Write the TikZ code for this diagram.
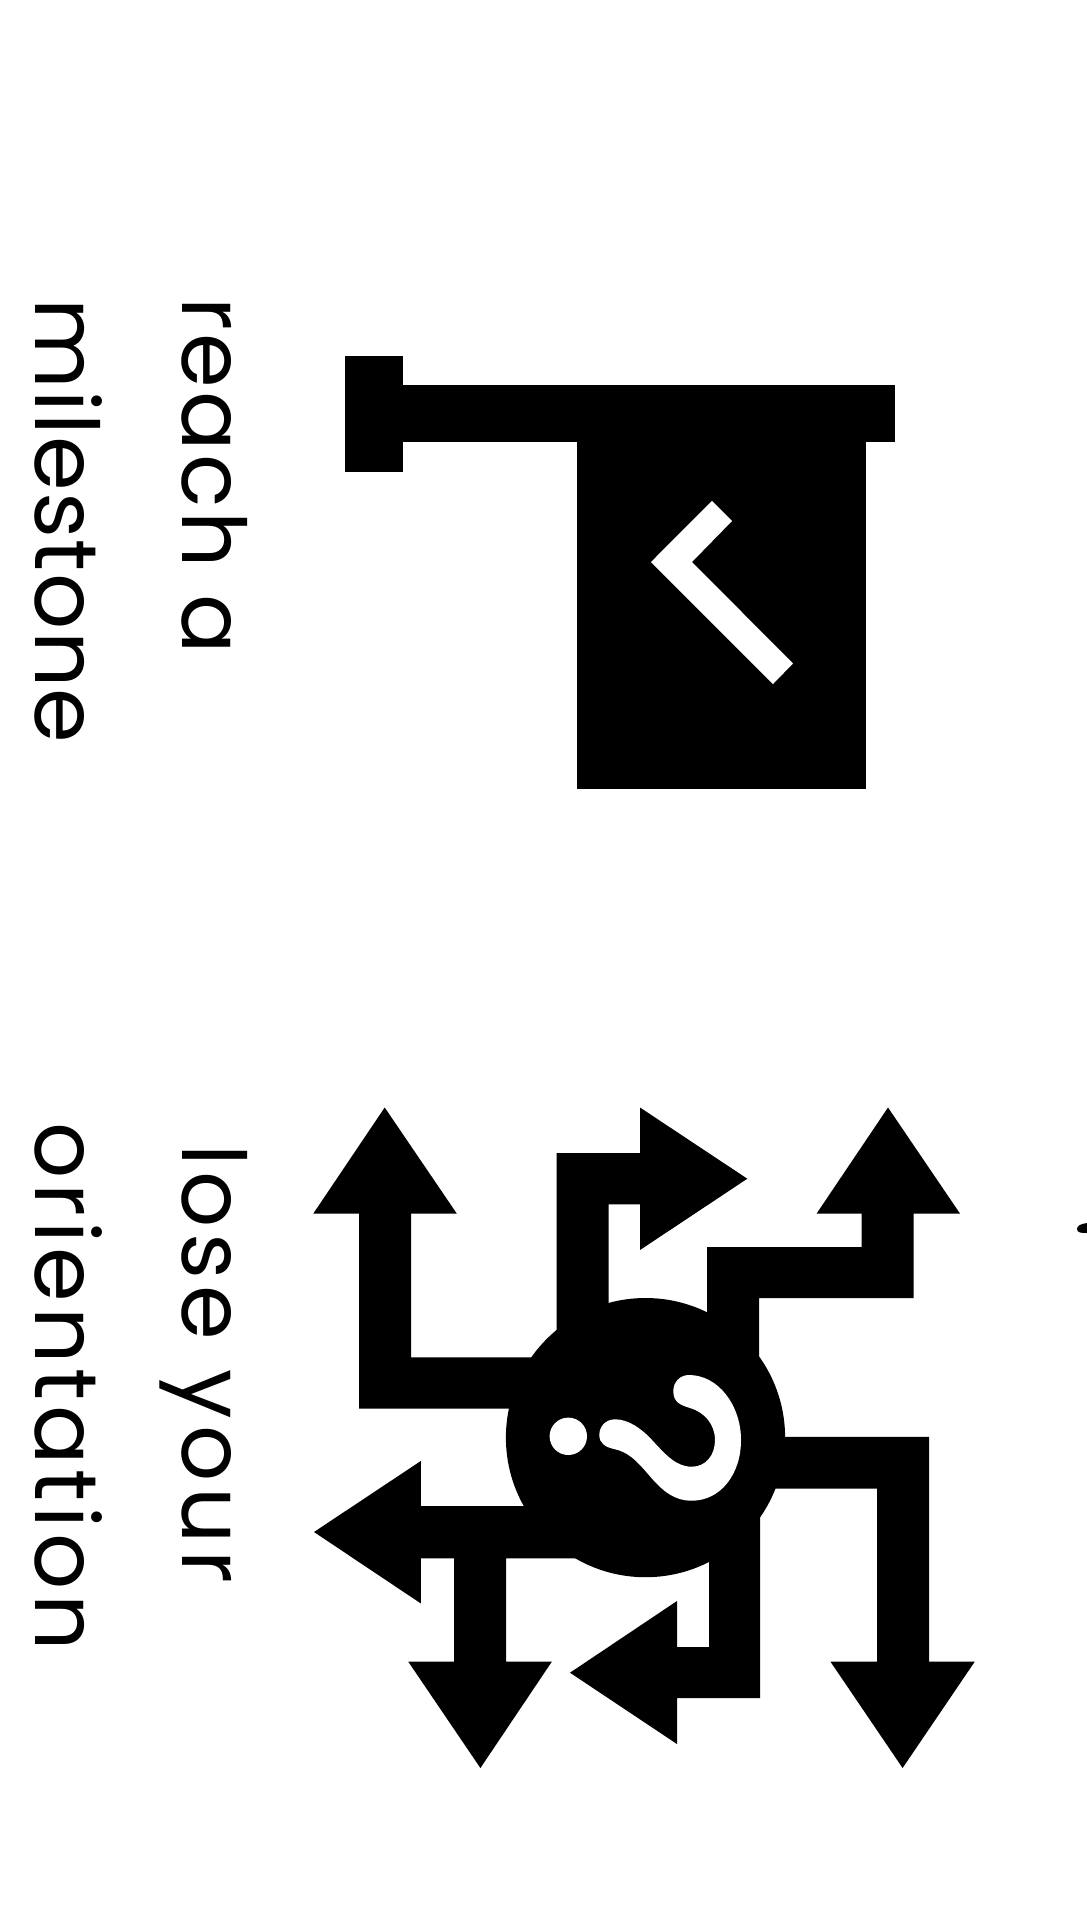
\documentclass[tikz,border=0pt]{standalone}
\usepackage{fontspec}
\newfontfamily\handA[LetterSpace=4]{Poppins}
\newfontfamily\handB[LetterSpace=1.6]{Poppins}
\newfontfamily\handC[LetterSpace=5.6]{Poppins}
\newfontfamily\handD[LetterSpace=6.8]{Poppins}
\tikzset{
  ink/.style={fill=black,draw=none},
  paper/.style={fill=white,draw=none},
  label/.style={rotate=-90,anchor=base west,inner sep=0pt,outer sep=0pt,text=black,font=\fontsize{88}{88}\selectfont}
}
\begin{document}
\begin{tikzpicture}[x=1pt,y=-1pt]
\useasboundingbox (0,0) rectangle (1087,1923);
\fill[white] (0,0) rectangle (1087,1923);
% flag
\fill[ink] (345.2,356) rectangle (402.8,471.5);
\fill[ink] (402.8,385.1) rectangle (895,441.8);
\fill[ink] (576.8,441.8) rectangle (865.9,789);
\fill[paper] (712,500.8) -- (732,521) -- (692,562) -- (793,663.5) -- (773,684) -- (651,562) -- cycle;
% lost: hub
\fill[ink] (645.5,1437.6) circle[radius=139.6];
% arrows
\fill[ink] (384.7,1107.5) -- (456.8,1213.6) -- (411,1213.6) -- (411,1357.3) -- (560,1357.3) -- (560,1408.7) -- (359,1408.7) -- (359,1213.6) -- (313.3,1213.6) -- cycle;
\fill[ink] (747.3,1178.7) -- (640,1250) -- (640,1204.4) -- (608.7,1204.4) -- (608.7,1340) -- (556.7,1340) -- (556.7,1153) -- (640,1153) -- (640,1107.5) -- cycle;
\fill[ink] (888,1107.5) -- (960,1213.6) -- (913.7,1213.6) -- (913.7,1298) -- (759,1298) -- (759,1400) -- (707,1400) -- (707,1247) -- (861.7,1247) -- (861.7,1213.6) -- (816.6,1213.6) -- cycle;
\fill[ink] (760,1436.8) -- (929,1436.8) -- (929,1661.7) -- (974.7,1661.7) -- (902.6,1768) -- (830.5,1661.7) -- (877,1661.7) -- (877,1488.6) -- (760,1488.6) -- cycle;
\fill[ink] (760,1480) -- (760,1698) -- (677,1698) -- (677,1744) -- (570,1672.7) -- (677,1601) -- (677,1647) -- (709,1647) -- (709,1480) -- cycle;
\fill[ink] (314,1532) -- (420.8,1461) -- (420.8,1506) -- (600,1506) -- (600,1558.4) -- (506,1558.4) -- (506,1661.7) -- (551.8,1661.7) -- (480.4,1768) -- (408.3,1661.7) -- (454,1661.7) -- (454,1558.4) -- (420.8,1558.4) -- (420.8,1603.4) -- cycle;
% question mark
\fill[paper] (568.3,1436.3) circle[radius=18.7];
\fill[paper] (599.3,1435) .. controls (599.3,1426) and (606,1419.3) .. (615,1419.3)
  .. controls (628,1419.3) and (641,1428) .. (652,1440)
  .. controls (666,1455) and (676,1466.7) .. (691.7,1466.7)
  .. controls (706,1466.7) and (715,1455) .. (715,1440)
  .. controls (715,1424) and (704,1412) .. (690,1408)
  .. controls (680,1405) and (673.3,1402) .. (673.3,1391)
  .. controls (673.3,1382) and (680,1375) .. (689,1375)
  .. controls (718,1375) and (741,1405) .. (741,1440)
  .. controls (741,1475) and (720,1500.7) .. (691.7,1500.7)
  .. controls (672,1500.7) and (660,1488) .. (648,1474)
  .. controls (636,1460) and (628,1452) .. (614,1449)
  .. controls (605,1447) and (599.3,1443) .. (599.3,1435) -- cycle;
% cut-off mark at the right edge
\fill[ink] (1087,1223) .. controls (1080,1224) and (1077,1226) .. (1077,1229) .. controls (1077,1233) and (1082,1233) .. (1087,1233) -- cycle;
% texts
\node[label] (reach) at (182,297) {\handA reach a};
\node[label] (miles) at (35,298.5) {\handB milestone};
\node[label] (lose) at (182,1144) {\handD lose your};
\node[label] (orient) at (35,1122) {\handC orientation};
\end{tikzpicture}
\end{document}
